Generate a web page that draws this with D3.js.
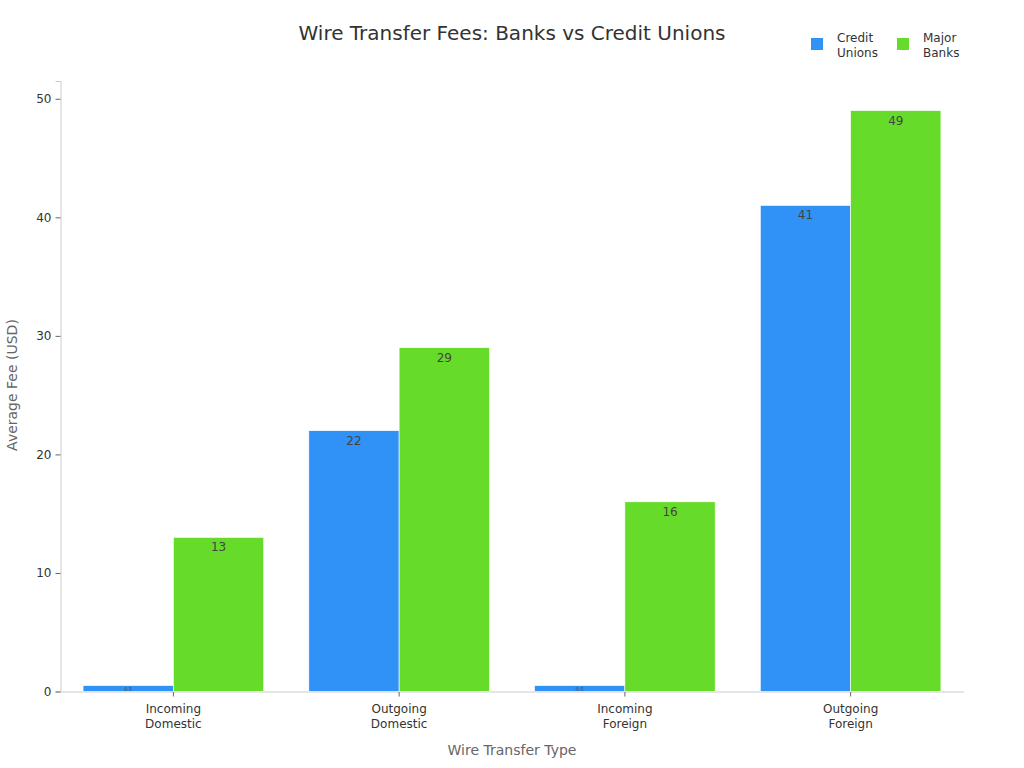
<!DOCTYPE html>
<html><head><meta charset="utf-8">
<script src="https://cdn.jsdelivr.net/npm/d3@7"></script>
<style>body{margin:0;background:#fff;font-family:"DejaVu Sans",sans-serif;}</style>
</head><body>
<svg id="c" width="1024" height="768"></svg>
<script>
const categories = [["Incoming","Domestic"],["Outgoing","Domestic"],["Incoming","Foreign"],["Outgoing","Foreign"]];
const seriesNames = ["Credit Unions","Major Banks"];
const creditUnions = [0.5, 22, 0.5, 41];
const majorBanks = [13, 29, 16, 49];
const yTicks = [0,10,20,30,40,50];
const colors = ["#3091f6","#67db29"];

const svg = d3.select("#c");
const m = {l:60.5, r:963.5, t:81, b:691.5};
const x = d3.scaleBand().domain(d3.range(categories.length)).range([m.l, m.r]).paddingInner(0.2).paddingOuter(0.1);
const x1 = d3.scaleBand().domain([0,1]).range([0, x.bandwidth()]);
const y = d3.scaleLinear().domain([0, 51.5]).range([m.b, m.t]);

svg.append("text").attr("x",512).attr("y",40).attr("text-anchor","middle")
  .attr("font-size",20).attr("fill","#333").text("Wire Transfer Fees: Banks vs Credit Unions");

// axes
const yAxis = svg.append("g").attr("transform",`translate(${m.l},0)`)
  .call(d3.axisLeft(y).tickValues(yTicks).tickSize(5).tickPadding(4));
yAxis.select(".domain").attr("stroke","#ccc");
yAxis.selectAll(".tick line").attr("stroke","#666");
yAxis.selectAll(".tick text").attr("font-size",12).attr("fill","#333").attr("font-family","DejaVu Sans");

const xAxis = svg.append("g").attr("transform",`translate(0,${m.b})`)
  .call(d3.axisBottom(x).tickFormat("").tickSize(5).tickSizeOuter(0));
xAxis.select(".domain").attr("stroke","#ccc");
xAxis.selectAll(".tick line").attr("stroke","#666");
xAxis.selectAll(".tick").each(function(d){
  const t = d3.select(this).append("text").attr("fill","#333").attr("font-size",12)
    .attr("text-anchor","middle").attr("font-family","DejaVu Sans");
  categories[d].forEach((s,i)=>t.append("tspan").attr("x",0).attr("y",21+i*15).text(s));
});

const data = [creditUnions, majorBanks];
data.forEach((vals,si)=>{
  const g = svg.append("g");
  vals.forEach((v,i)=>{
    const bx = x(i)+x1(si), bw = x1.bandwidth();
    g.append("rect").attr("x",bx).attr("y",y(v)).attr("width",bw).attr("height",y(0)-y(v))
      .attr("fill",colors[si]).attr("stroke","#fff").attr("stroke-width",0.6);
    const h = y(0)-y(v);
    const fs = h < 20 ? 5 : 12;
    g.append("text").attr("x",bx+bw/2).attr("y", h<20 ? y(v)+fs : y(v)+14)
      .attr("text-anchor","middle").attr("font-size",fs).attr("fill","#444").text(v);
  });
});

// axis titles
svg.append("text").attr("transform","translate(17,385) rotate(-90)").attr("text-anchor","middle")
  .attr("font-size",14).attr("fill","#666").text("Average Fee (USD)");
svg.append("text").attr("x",512).attr("y",755).attr("text-anchor","middle")
  .attr("font-size",14).attr("fill","#666").text("Wire Transfer Type");

// legend
const leg = [[811,"Credit","Unions"],[897,"Major","Banks"]];
leg.forEach((l,i)=>{
  svg.append("rect").attr("x",l[0]).attr("y",38).attr("width",12).attr("height",12).attr("fill",colors[i]);
  const t = svg.append("text").attr("font-size",12).attr("fill","#333");
  t.append("tspan").attr("x",l[0]+26).attr("y",42).text(l[1]);
  t.append("tspan").attr("x",l[0]+26).attr("y",57).text(l[2]);
});
</script>
</body></html>
